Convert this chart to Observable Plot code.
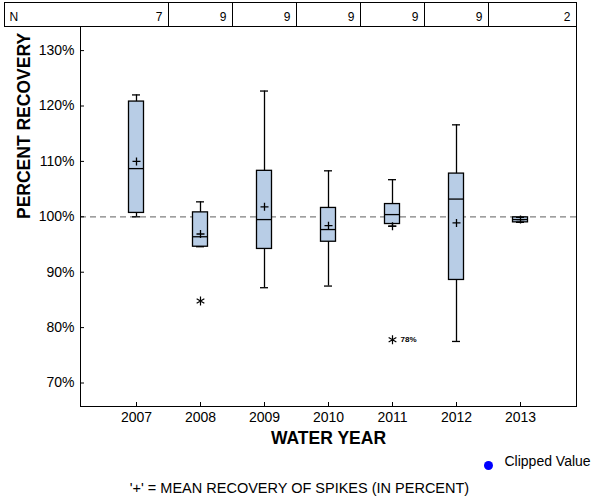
<!DOCTYPE html>
<html>
<head>
<meta charset="utf-8">
<script src="https://cdn.jsdelivr.net/npm/d3@7"></script>
<script src="https://cdn.jsdelivr.net/npm/@observablehq/plot@0.6"></script>
<style>
  html, body { margin: 0; padding: 0; background: white; }
</style>
</head>
<body>
<div id="chart"></div>
<script>
// ---- data ----
const years       = [2007, 2008, 2009, 2010, 2011, 2012, 2013];
const nCounts     = [7, 9, 9, 9, 9, 9, 2];
const whiskerLow  = [100.0, 94.6, 87.2, 87.5, 98.3, 77.5, 99.0];
const q1          = [100.7, 94.6, 94.2, 95.5, 98.7, 88.6, 99.0];
const medians     = [108.7, 96.4, 99.5, 97.7, 100.4, 103.2, 99.5];
const q3          = [120.8, 100.8, 108.3, 101.6, 102.3, 107.8, 99.9];
const whiskerHigh = [122.0, 102.7, 122.7, 108.3, 106.7, 116.6, 99.9];
const means       = [110.0, 96.9, 101.8, 98.4, 98.3, 98.9, 99.5];

const outlierYears  = [2008, 2011];
const outlierValues = [84.8, 77.8];
const outlierLabels = ["", "78%"];

const yTicks = [70, 80, 90, 100, 110, 120, 130];
const referenceValue = [100];

const yLabel = "PERCENT RECOVERY";
const xLabel = "WATER YEAR";
const legendLabel = "Clipped Value";
const caption = "'+' = MEAN RECOVERY OF SPIKES (IN PERCENT)";

// ---- tables built from the arrays ----
const boxes = years.map((year, i) => ({
  year, n: nCounts[i], lo: whiskerLow[i], q1: q1[i], med: medians[i],
  q3: q3[i], hi: whiskerHigh[i], mean: means[i]
}));
const outliers = outlierYears.map((year, i) => ({year, value: outlierValues[i], label: outlierLabels[i]}));
const lastYear = years[years.length - 1];

const T = 26, B = 94, L = 80, R = 24, H = 500, W = 600;
const frameH = H - T - B;
const frameW = W - L - R;

const font = '"Liberation Sans", Arial, Helvetica, sans-serif';

const chart = Plot.plot({
  width: W, height: H,
  marginTop: T, marginBottom: B, marginLeft: L, marginRight: R,
  style: {fontFamily: font, fontSize: "14px", color: "black", background: "white"},
  x: {type: "band", domain: years, paddingInner: 0, paddingOuter: 0.375, align: 0.5,
      tickSize: 0, tickPadding: 6, tickFormat: d => String(d), label: null},
  y: {domain: [65.76, 134.35], ticks: yTicks, tickFormat: d => d + "%",
      tickSize: 0, tickPadding: 6, label: null},
  marks: [
    // reference line at 100%
    Plot.ruleY(referenceValue, {y: d => d, stroke: "#808080", strokeWidth: 1.2, strokeDasharray: "6,4"}),
    // inward tick marks
    Plot.tickY(yTicks, {y: d => d, insetRight: frameW - 4, stroke: "black"}),
    Plot.tickX(years, {x: d => d, insetTop: frameH - 4, stroke: "black"}),
    // whiskers
    Plot.ruleX(boxes, {x: "year", y1: "lo", y2: "hi", stroke: "black", strokeWidth: 1.3}),
    // boxes
    Plot.barY(boxes, {x: "year", y1: "q1", y2: "q3", fill: "#b8cde6", stroke: "black",
                      strokeWidth: 1.3, insetLeft: 24.5, insetRight: 24.5}),
    // whisker caps
    Plot.tickY(boxes, {x: "year", y: "hi", insetLeft: 28, insetRight: 28, stroke: "black", strokeWidth: 1.3}),
    Plot.tickY(boxes, {x: "year", y: "lo", insetLeft: 28, insetRight: 28, stroke: "black", strokeWidth: 1.3}),
    // medians
    Plot.tickY(boxes, {x: "year", y: "med", insetLeft: 24.5, insetRight: 24.5, stroke: "black", strokeWidth: 1.3}),
    // means
    Plot.dot(boxes, {x: "year", y: "mean", symbol: "plus", r: 2.7, stroke: "black", strokeWidth: 1.3}),
    // outliers
    Plot.dot(outliers, {x: "year", y: "value", symbol: "asterisk", r: 4.2, stroke: "black", strokeWidth: 1.2}),
    Plot.text(outliers, {x: "year", y: "value", text: "label", dx: 8, textAnchor: "start",
                         fontSize: 8, fontWeight: "bold", fill: "black"}),
    // plot frame
    Plot.frame({stroke: "black", strokeWidth: 1}),
    // N table
    Plot.frame({insetTop: -(T - 2), insetBottom: frameH, insetLeft: -(L - 4), insetRight: 0,
                stroke: "black", strokeWidth: 1}),
    Plot.ruleX(years.slice(1), {x: d => d, dx: -32, insetTop: -(T - 2), insetBottom: frameH,
                                stroke: "black", strokeWidth: 1}),
    Plot.text(["N"], {frameAnchor: "top-left", dx: -(L - 9), dy: -(T - 2) / 2 - 2,
                      textAnchor: "start", fontSize: 12, fill: "black"}),
    Plot.text(boxes.filter(d => d.year !== lastYear),
              {x: "year", text: "n", frameAnchor: "top", dx: 26, dy: -(T - 2) / 2 - 2,
               textAnchor: "end", fontSize: 12, fill: "black"}),
    Plot.text(boxes.filter(d => d.year === lastYear),
              {text: "n", frameAnchor: "top-right", dx: -6, dy: -(T - 2) / 2 - 2,
               textAnchor: "end", fontSize: 12, fill: "black"}),
    // axis titles
    Plot.text([yLabel], {frameAnchor: "left", dx: -56, dy: 2.5, rotate: -90,
                         fontSize: 17.5, fontWeight: "bold", fill: "black"}),
    Plot.text([xLabel], {frameAnchor: "bottom", dy: 37, fontSize: 17.5, fontWeight: "bold", fill: "black"}),
    // legend
    Plot.dot([legendLabel], {frameAnchor: "bottom-right", dx: -88, dy: 59, r: 4.5, fill: "blue"}),
    Plot.text([legendLabel], {frameAnchor: "bottom-right", dx: -72, dy: 59, textAnchor: "start",
                              fontSize: 14, fill: "black"}),
    // caption
    Plot.text([caption], {frameAnchor: "bottom", dx: -29, dy: 86, fontSize: 14.5, fill: "black"})
  ]
});

document.getElementById("chart").appendChild(chart);
</script>
</body>
</html>
